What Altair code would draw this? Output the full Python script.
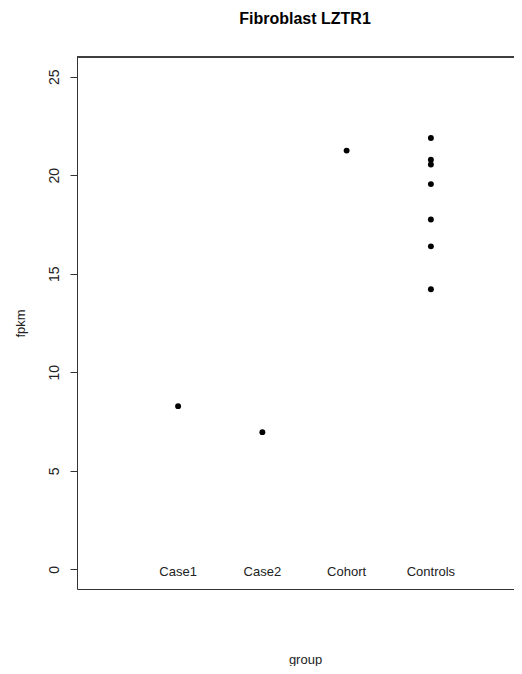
import altair as alt
import pandas as pd

# ---- data ----
groups = ["Case1", "Case2", "Cohort", "Controls"]
group_pos = [1, 2, 3, 4]
point_group = ["Case1", "Case2", "Cohort",
               "Controls", "Controls", "Controls", "Controls",
               "Controls", "Controls", "Controls"]
point_fpkm = [8.28, 6.96, 21.25,
              21.89, 20.79, 20.54, 19.55, 17.75, 16.39, 14.21]
y_ticks = [0, 5, 10, 15, 20, 25]
chart_title = "Fibroblast LZTR1"

pos_map = dict(zip(groups, group_pos))
pts = pd.DataFrame({"group": point_group, "fpkm": point_fpkm})
pts["pos"] = pts["group"].map(pos_map)
labs = pd.DataFrame({"group": groups, "pos": group_pos, "y": [0] * len(groups)})
ttl = pd.DataFrame({"t": [chart_title]})

W, H = 437, 532
PX_PER_UNIT = 84.26
FONT = "Liberation Sans"
INK = "#222222"

xscale = alt.Scale(domain=[-0.2, -0.2 + W / PX_PER_UNIT], nice=False, zero=False)
yscale = alt.Scale(domain=[-1, 26], nice=False, zero=False)

xaxis = alt.Axis(title="group", labels=False, ticks=False, domain=True,
                 domainColor="#333333", domainWidth=1, grid=False,
                 titleFont=FONT, titleFontSize=13, titleFontWeight="normal",
                 titleColor=INK, titleX=228, titleY=74,
                 titleBaseline="alphabetic", titleAlign="center")
yaxis = alt.Axis(title="fpkm", values=y_ticks, grid=False,
                 domainColor="#333333", tickColor="#333333", tickSize=7,
                 labelAngle=270, labelAlign="center",
                 labelBaseline="alphabetic", labelPadding=12,
                 labelFont=FONT, labelFontSize=14, labelColor=INK,
                 titleFont=FONT, titleFontSize=13, titleFontWeight="normal",
                 titleColor=INK, titleAngle=270, titleX=-53, titleY=266,
                 titleBaseline="alphabetic", titleAlign="center")

points = alt.Chart(pts).mark_circle(size=35, color="black", opacity=1).encode(
    x=alt.X("pos:Q", scale=xscale, axis=xaxis),
    y=alt.Y("fpkm:Q", scale=yscale, axis=yaxis),
)

labels = alt.Chart(labs).mark_text(
    font=FONT, fontSize=13, color=INK, baseline="middle", align="center", dy=2.5
).encode(
    x=alt.X("pos:Q", scale=xscale),
    y=alt.Y("y:Q", scale=yscale),
    text="group:N",
)

top_rule = alt.Chart(labs).mark_rule(color="#333333", strokeWidth=1).encode(
    x=alt.value(0), x2=alt.value(W), y=alt.value(0)
)

title_mark = alt.Chart(ttl).mark_text(
    font=FONT, fontSize=16, fontWeight="bold", color="black",
    align="center", baseline="alphabetic"
).encode(x=alt.value(228), y=alt.value(-33), text="t:N")

chart = alt.layer(top_rule, points, labels, title_mark).properties(
    width=W, height=H,
    autosize=alt.AutoSizeParams(type="none"),
    padding={"left": 69, "top": 49, "right": 0, "bottom": 77},
).configure_view(stroke=None).configure(background="white")

chart.save("out.html", embed_options={"renderer": "svg", "actions": False})
